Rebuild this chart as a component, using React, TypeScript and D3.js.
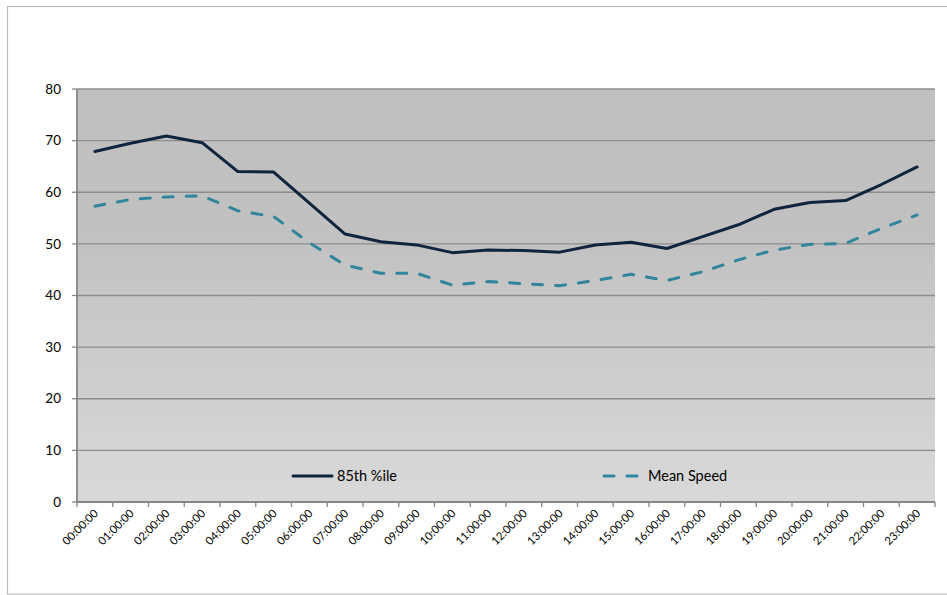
import React from "react";
import * as d3 from "d3";

const hours = ["00:00:00","01:00:00","02:00:00","03:00:00","04:00:00","05:00:00","06:00:00","07:00:00","08:00:00","09:00:00","10:00:00","11:00:00","12:00:00","13:00:00","14:00:00","15:00:00","16:00:00","17:00:00","18:00:00","19:00:00","20:00:00","21:00:00","22:00:00","23:00:00"];
const pct85 = [67.9,69.5,70.9,69.6,64.0,63.9,57.9,51.9,50.4,49.8,48.3,48.8,48.7,48.4,49.8,50.3,49.1,51.4,53.7,56.7,58.0,58.4,61.5,64.9];
const meanSpeed = [57.3,58.6,59.1,59.3,56.4,55.3,50.2,45.9,44.3,44.3,42.0,42.7,42.3,41.9,42.9,44.1,42.9,44.6,46.9,48.8,49.9,50.1,53.0,55.6];
const yTicks = [0,10,20,30,40,50,60,70,80];
const seriesNames = ["85th %ile","Mean Speed"];

const W = 947, H = 595;
const plot = { left: 77, right: 935, top: 89, bottom: 502 };
const font = "Lato, 'Open Sans', sans-serif";

export default function App() {
  const x = d3.scaleBand<string>().domain(hours).range([plot.left, plot.right]).padding(0);
  const y = d3.scaleLinear().domain([0, 80]).range([plot.bottom, plot.top]);
  const cx = (h: string) => (x(h) as number) + x.bandwidth() / 2;
  const line = d3.line<number>().x((_, i) => cx(hours[i])).y(d => y(d));
  const boundaries = d3.range(hours.length + 1).map(i => plot.left + i * x.bandwidth());

  return (
    <svg width={W} height={H} style={{ position: "absolute", left: 0, top: 0, fontFamily: font }}>
      <defs>
        <linearGradient id="bg" x1="0" y1="0" x2="0" y2="1">
          <stop offset="0" stopColor="#c0c0c0" />
          <stop offset="0.35" stopColor="#c1c1c1" />
          <stop offset="1" stopColor="#d9d9d9" />
        </linearGradient>
      </defs>
      <rect x={0} y={0} width={W} height={H} fill="#ffffff" />
      <rect x={7.5} y={6.5} width={W + 10} height={587.5} fill="#ffffff" stroke="#bdbdbd" strokeWidth={1.2} />
      <rect x={plot.left} y={plot.top} width={plot.right - plot.left} height={plot.bottom - plot.top} fill="url(#bg)" />
      {yTicks.filter(t => t > 0).map(t => (
        <line key={t} x1={plot.left} x2={plot.right} y1={y(t)} y2={y(t)} stroke="#8c8c8c" strokeWidth={1.3} />
      ))}
      {/* y axis */}
      <line x1={plot.left} x2={plot.left} y1={plot.top} y2={plot.bottom} stroke="#868686" strokeWidth={1.8} />
      {yTicks.map(t => (
        <g key={t}>
          <line x1={plot.left - 5} x2={plot.left} y1={y(t)} y2={y(t)} stroke="#868686" strokeWidth={1.3} />
          <text x={61} y={y(t)} dy="0.35em" textAnchor="end" fontSize={13.5} fill="#000">{t}</text>
        </g>
      ))}
      {/* x axis */}
      <line x1={plot.left} x2={plot.right} y1={plot.bottom} y2={plot.bottom} stroke="#868686" strokeWidth={1.8} />
      {boundaries.map((b, i) => (
        <line key={i} x1={b} x2={b} y1={plot.bottom} y2={plot.bottom + 5} stroke="#868686" strokeWidth={1.3} />
      ))}
      {hours.map(h => (
        <text key={h} transform={`translate(${cx(h) + 4},${plot.bottom + 12}) rotate(-45)`} textAnchor="end" fontSize={11.3} fill="#000">{h}</text>
      ))}
      {/* series */}
      <path d={line(meanSpeed) || ""} fill="none" stroke="#31859c" strokeWidth={3} strokeDasharray="10 13" strokeLinecap="round" strokeLinejoin="round" />
      <path d={line(pct85) || ""} fill="none" stroke="#0f243e" strokeWidth={3} strokeLinejoin="round" strokeLinecap="round" />
      {/* legend */}
      <line x1={293} x2={332} y1={476} y2={476} stroke="#0f243e" strokeWidth={3} strokeLinecap="round" />
      <text x={337} y={476} dy="0.35em" fontSize={14.5} fill="#000">{seriesNames[0]}</text>
      <line x1={604} x2={640} y1={476} y2={476} stroke="#31859c" strokeWidth={3} strokeDasharray="10 13" strokeLinecap="round" />
      <text x={648} y={476} dy="0.35em" fontSize={14.5} fill="#000">{seriesNames[1]}</text>
    </svg>
  );
}
